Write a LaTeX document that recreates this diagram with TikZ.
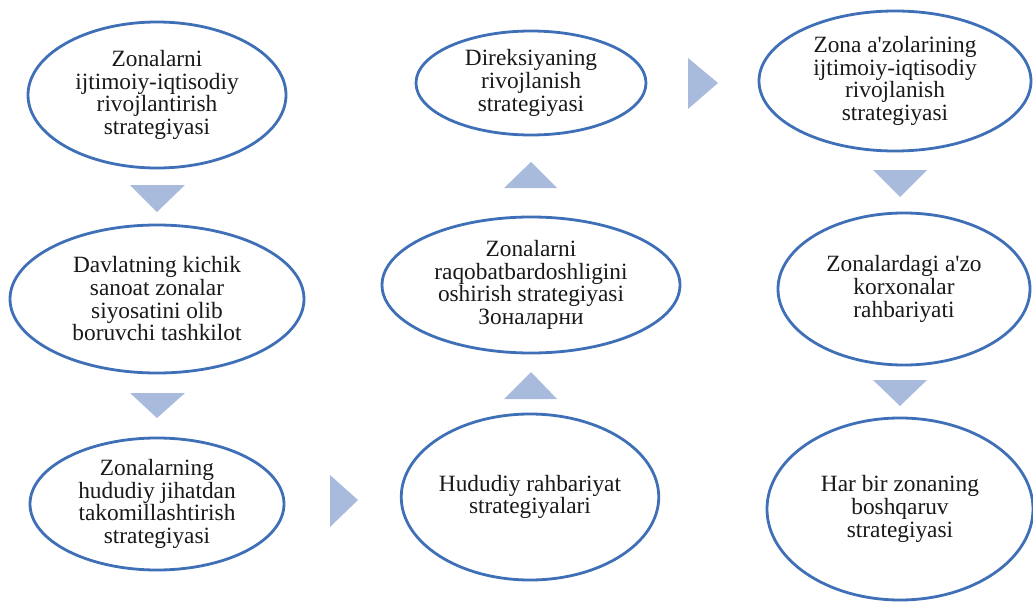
\documentclass[tikz,border=0pt]{standalone}
\usepackage{fontspec}
\setmainfont{Liberation Serif}[Ligatures=TeXOff]
\definecolor{ringblue}{HTML}{3F6FB6}
\definecolor{arrowblue}{HTML}{A9BBDD}
\tikzset{
  oval/.style={ellipse, draw=ringblue, line width=2.1pt, fill=white, align=center,
    inner sep=0pt, font=\fontsize{17.5}{17}\selectfont, text=black!90},
  tri/.style={fill=arrowblue, draw=none}
}
\usetikzlibrary{shapes.geometric}
\begin{document}
\begin{tikzpicture}[x=0.75pt,y=-0.75pt]
\useasboundingbox (0,0) rectangle (1033,603);
% ellipses (centre, 2rx, 2ry in px)
\node[oval, minimum width=258*0.75pt, minimum height=146*0.75pt] (e1) at (157,95)
  {Zonalarni\\ijtimoiy-iqtisodiy\\rivojlantirish\\strategiyasi};
\node[oval, minimum width=294*0.75pt, minimum height=148*0.75pt] (e2) at (157,299)
  {Davlatning kichik\\sanoat zonalar\\siyosatini olib\\boruvchi tashkilot};
\node[oval, minimum width=254*0.75pt, minimum height=132*0.75pt] (e3) at (157,504)
  {Zonalarning\\hududiy jihatdan\\takomillashtirish\\strategiyasi};
\node[oval, minimum width=230*0.75pt, minimum height=104*0.75pt] (e4) at (531,83)
  {Direksiyaning\\rivojlanish\\strategiyasi};
\node[oval, minimum width=298*0.75pt, minimum height=136*0.75pt] (e5) at (531,285)
  {Zonalarni\\raqobatbardoshligini\\oshirish strategiyasi\\Зоналарни};
\node[oval, minimum width=254*0.75pt, minimum height=166*0.75pt] (e6) at (530,497)
  {Hududiy rahbariyat\\strategiyalari};
\node[oval, minimum width=272*0.75pt, minimum height=140*0.75pt] (e7) at (895,81)
  {Zona a'zolarining\\ijtimoiy-iqtisodiy\\rivojlanish\\strategiyasi};
\node[oval, minimum width=252*0.75pt, minimum height=152*0.75pt] (e8) at (904,289)
  {Zonalardagi a'zo\\korxonalar\\rahbariyati};
\node[oval, minimum width=266*0.75pt, minimum height=182*0.75pt] (e9) at (900,509)
  {Har bir zonaning\\boshqaruv\\strategiyasi};
% chevron arrows
\fill[tri] (130,185) -- (185,185) -- (157,212) -- cycle;
\fill[tri] (130,393) -- (185,393) -- (157,418) -- cycle;
\fill[tri] (330,475) -- (330,527) -- (358,500) -- cycle;
\fill[tri] (504,399) -- (557,399) -- (531,372) -- cycle;
\fill[tri] (504,188) -- (557,188) -- (531,162) -- cycle;
\fill[tri] (688,58) -- (688,109) -- (718,83) -- cycle;
\fill[tri] (873,170) -- (927,170) -- (900,197) -- cycle;
\fill[tri] (873,380) -- (927,380) -- (900,406) -- cycle;
\end{tikzpicture}
\end{document}
